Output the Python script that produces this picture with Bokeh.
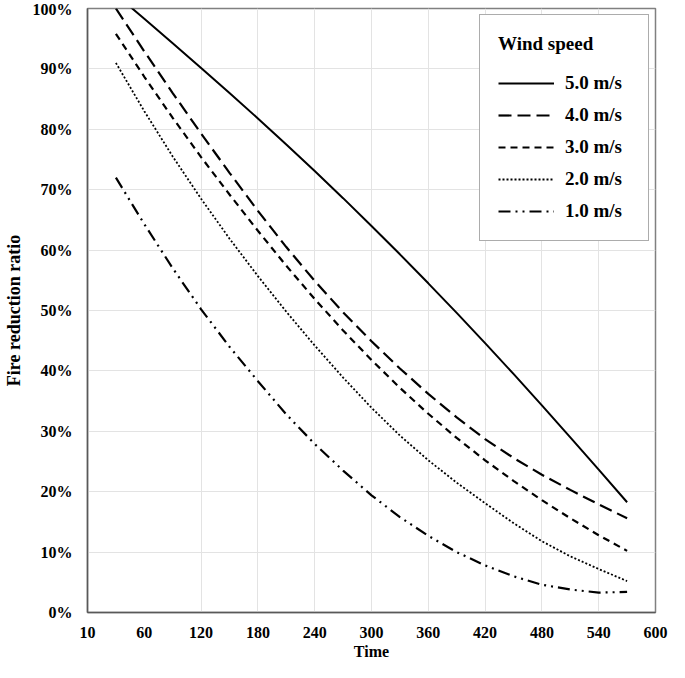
from bokeh.plotting import figure
from bokeh.models import FixedTicker, PrintfTickFormatter, Legend, LegendItem, Range1d
from bokeh.embed import file_html
from bokeh.resources import INLINE

# ---- data ----
time = [30, 60, 90, 120, 150, 180, 210, 240, 270, 300, 330, 360, 390, 420, 450, 480, 510, 540, 570]

ws_5 = [102.3, 98.3, 94.25, 90.15, 86.0, 81.8, 77.5, 73.1, 68.6, 64.0, 59.3, 54.5, 49.6, 44.6, 39.5, 34.3, 29.0, 23.65, 18.25]
ws_4 = [100.0, 92.9, 86.0, 79.3, 72.8, 66.5, 60.5, 54.9, 49.7, 44.9, 40.4, 36.2, 32.3, 28.7, 25.6, 22.8, 20.3, 17.9, 15.6]
ws_3 = [95.8, 88.7, 81.9, 75.4, 69.2, 63.2, 57.4, 51.9, 46.7, 41.8, 37.2, 32.9, 28.9, 25.2, 21.8, 18.6, 15.6, 12.8, 10.2]
ws_2 = [91.0, 83.0, 75.5, 68.5, 61.9, 55.7, 49.8, 44.2, 38.9, 33.9, 29.3, 25.2, 21.5, 18.1, 14.8, 11.8, 9.3, 7.2, 5.2]
ws_1 = [72.0, 64.3, 57.0, 50.2, 44.0, 38.3, 32.8, 27.9, 23.5, 19.4, 15.8, 12.7, 10.0, 7.8, 6.0, 4.6, 3.8, 3.3, 3.4]

series_labels = ["5.0 m/s", "4.0 m/s", "3.0 m/s", "2.0 m/s", "1.0 m/s"]
x_ticks = [0, 60, 120, 180, 240, 300, 360, 420, 480, 540, 600]
x_tick_labels = ["10", "60", "120", "180", "240", "300", "360", "420", "480", "540", "600"]
y_ticks = [0, 10, 20, 30, 40, 50, 60, 70, 80, 90, 100]

FONT = "Liberation Serif"

p = figure(width=669, height=662, output_backend="svg", toolbar_location=None,
           x_range=Range1d(0, 600), y_range=Range1d(0, 100),
           min_border_left=4, min_border_right=14, min_border_top=8, min_border_bottom=4)

p.background_fill_color = "white"
p.border_fill_color = "white"
p.outline_line_color = "#808080"
p.outline_line_width = 1.5

# axes
p.xaxis.ticker = FixedTicker(ticks=x_ticks)
p.xaxis.major_label_overrides = {t: l for t, l in zip(x_ticks, x_tick_labels)}
p.yaxis.ticker = FixedTicker(ticks=y_ticks)
p.yaxis.formatter = PrintfTickFormatter(format="%d%%")
for ax in (p.xaxis, p.yaxis):
    ax.major_tick_line_color = None
    ax.minor_tick_line_color = None
    ax.axis_line_color = "#595959"
    ax.axis_line_width = 1.5
    ax.major_label_text_font = FONT
    ax.major_label_text_font_style = "bold"
    ax.major_label_text_font_size = "16px"
    ax.major_label_text_color = "black"
    ax.axis_label_text_font = FONT
    ax.axis_label_text_font_style = "bold"
    ax.axis_label_text_color = "black"
p.xaxis.axis_label_text_font_size = "16px"
p.yaxis.axis_label_text_font_size = "18px"
p.xaxis.axis_label = "Time"
p.yaxis.axis_label = "Fire reduction ratio"
p.xaxis.major_label_standoff = 8
p.xaxis.axis_label_standoff = 2
p.yaxis.major_label_standoff = 9
p.yaxis.axis_label_standoff = 6

# grid
p.xgrid.ticker = FixedTicker(ticks=[120, 180, 240, 300, 360, 420, 480, 540])
p.xgrid.grid_line_color = "#e3e3e3"
p.ygrid.grid_line_color = "#e3e3e3"
p.xgrid.grid_line_width = 1
p.ygrid.grid_line_width = 1

# lines
r5 = p.line(time, ws_5, line_color="black", line_width=2)
r4 = p.line(time, ws_4, line_color="black", line_width=2.2, line_dash="13 6")
r3 = p.line(time, ws_3, line_color="black", line_width=2.2, line_dash="7 5")
r2 = p.line(time, ws_2, line_color="black", line_width=1.8, line_dash="2 2")
r1 = p.line(time, ws_1, line_color="black", line_width=2.2, line_dash="12 5 2 5 2 5")

items = [LegendItem(label=lab, renderers=[r]) for lab, r in zip(series_labels, [r5, r4, r3, r2, r1])]
legend = Legend(items=items, location="top_right", title="Wind speed")
legend.title_text_font = FONT
legend.title_text_font_style = "bold"
legend.title_text_font_size = "19px"
legend.title_text_color = "black"
legend.title_standoff = 17
legend.label_text_font = FONT
legend.label_text_font_style = "bold"
legend.label_text_font_size = "19px"
legend.label_text_color = "black"
legend.glyph_width = 56
legend.glyph_height = 20
legend.spacing = 10
legend.padding = 18
legend.label_standoff = 11
legend.label_width = 65
legend.margin = 6
legend.border_line_color = "#595959"
legend.border_line_width = 1.5
legend.background_fill_color = "white"
legend.background_fill_alpha = 1.0
p.add_layout(legend)

open("out.html", "w").write(file_html(p, INLINE))
